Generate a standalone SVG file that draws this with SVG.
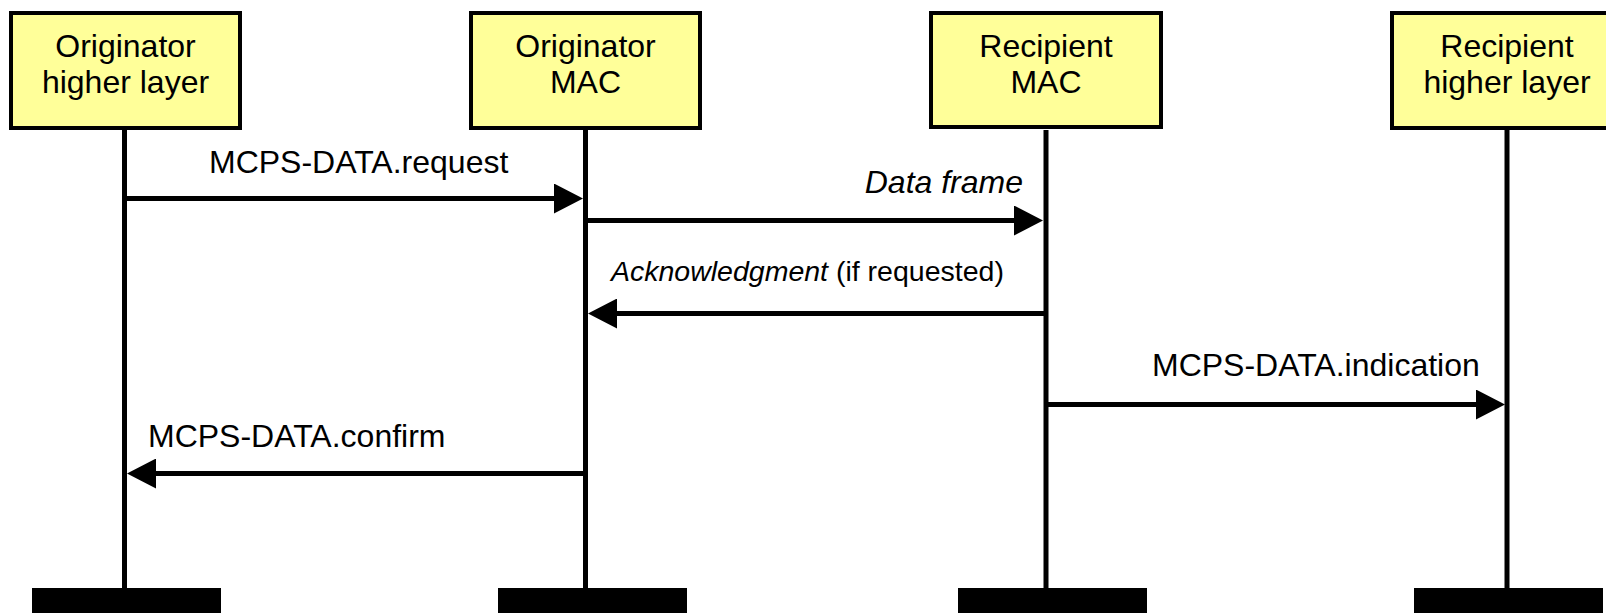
<svg xmlns="http://www.w3.org/2000/svg" width="1606" height="613" viewBox="0 0 1606 613">
  <style>
    .box { fill: #FFFF99; stroke: #000; stroke-width: 4; }
    .life { stroke: #000; stroke-width: 5; }
    .bar { fill: #000; }
    .msg { stroke: #000; stroke-width: 5; fill: none; marker-end: url(#head); }
    text { font-family: "Liberation Sans", Arial, sans-serif; font-size: 32px; fill: #000; }
    .c { text-anchor: middle; }
    .e { text-anchor: end; }
    .it { font-style: italic; }
    .sm { font-size: 28.5px; }
  </style>
  <defs>
    <marker id="head" markerUnits="userSpaceOnUse" viewBox="0 0 29 30" refX="5" refY="15" markerWidth="29" markerHeight="30" orient="auto">
      <path d="M0,0 L29,15 L0,30 z" fill="#000"/>
    </marker>
  </defs>
  <rect width="1606" height="613" fill="#fff"/>

  <!-- lifelines and terminating bars -->
  <g id="lifelines">
    <line class="life" x1="124.5" y1="130" x2="124.5" y2="590"/>
    <line class="life" x1="585.5" y1="130" x2="585.5" y2="590"/>
    <line class="life" x1="1046" y1="130" x2="1046" y2="590"/>
    <line class="life" x1="1507" y1="130" x2="1507" y2="590"/>
    <rect class="bar" x="32" y="588" width="189" height="25"/>
    <rect class="bar" x="498" y="588" width="189" height="25"/>
    <rect class="bar" x="958" y="588" width="189" height="25"/>
    <rect class="bar" x="1414" y="588" width="189" height="25"/>
  </g>

  <g id="orig-higher">
    <rect class="box" x="11" y="13" width="229" height="115"/>
    <text class="c" x="125.5" y="57">Originator</text>
    <text class="c" x="125.5" y="93">higher layer</text>
  </g>
  <g id="orig-mac">
    <rect class="box" x="471" y="13" width="229" height="115"/>
    <text class="c" x="585.5" y="57">Originator</text>
    <text class="c" x="585.5" y="93">MAC</text>
  </g>
  <g id="recip-mac">
    <rect class="box" x="931" y="13" width="230" height="114"/>
    <text class="c" x="1046" y="57">Recipient</text>
    <text class="c" x="1046" y="93">MAC</text>
  </g>
  <g id="recip-higher">
    <rect class="box" x="1392" y="13" width="230" height="115"/>
    <text class="c" x="1507" y="57">Recipient</text>
    <text class="c" x="1507" y="93">higher layer</text>
  </g>

  <!-- messages -->
  <g id="connectors">
    <line class="msg" x1="124.5" y1="198.5" x2="559" y2="198.5"/>
    <line class="msg" x1="585.5" y1="220.5" x2="1019" y2="220.5"/>
    <line class="msg" x1="1046" y1="313.5" x2="612" y2="313.5"/>
    <line class="msg" x1="1046" y1="404.5" x2="1481" y2="404.5"/>
    <line class="msg" x1="585.5" y1="473.5" x2="151" y2="473.5"/>
  </g>

  <g id="labels">
    <text x="209" y="173">MCPS-DATA.request</text>
    <text class="e it" x="1023" y="193">Data frame</text>
    <text class="sm" x="611" y="281"><tspan class="it">Acknowledgment</tspan> (if requested)</text>
    <text x="1152" y="376">MCPS-DATA.indication</text>
    <text x="148" y="447">MCPS-DATA.confirm</text>
  </g>
</svg>
